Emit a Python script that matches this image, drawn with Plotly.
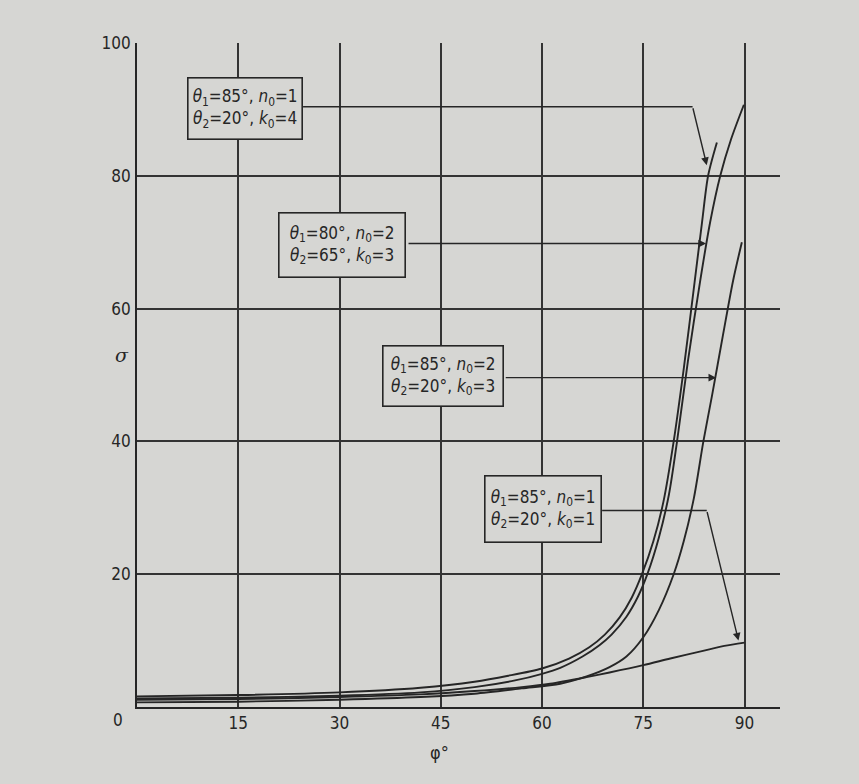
import plotly.graph_objects as go

# angle of incidence (degrees) and sigma for each parameter set
phi_a = [0, 15, 30, 42, 50, 55, 60, 64, 67, 69.3, 71.5, 73.3, 74.8, 76.5, 78, 79.5, 81, 82.6, 83.7, 84.6, 85.9]
sig_a = [1.6, 1.8, 2.2, 2.9, 3.8, 4.7, 5.8, 7.3, 9.0, 10.9, 13.5, 16.5, 20, 25, 31, 40, 51, 64, 73, 80, 85]

phi_b = [0, 15, 30, 42, 50, 56, 60, 62.7, 66, 68.5, 70.3, 72.5, 74.2, 75.6, 77.3, 78.8, 80, 81.6, 83.4, 84.9, 86.4, 88, 89.9]
sig_b = [1.3, 1.4, 1.7, 2.2, 3.0, 4.0, 5.0, 5.9, 7.6, 9.3, 10.9, 13.6, 16.6, 20, 25.5, 32, 40, 52, 64, 73, 80, 85.5, 90.7]

phi_c = [0, 15, 30, 42, 50, 57, 62.7, 66.6, 70, 72.5, 75, 77.3, 79.5, 81, 82.5, 83.9, 85.2, 86.8, 88.3, 89.6]
sig_c = [0.7, 0.8, 1.1, 1.5, 2.0, 2.8, 3.5, 4.6, 6.0, 7.6, 10.5, 14.6, 20, 25, 31.5, 40, 47, 56, 64.2, 70]

phi_d = [0, 15, 30, 42, 50, 57, 61.2, 66.6, 70, 75, 79, 84, 87, 90]
sig_d = [1.1, 1.2, 1.5, 1.9, 2.4, 3.0, 3.5, 4.5, 5.2, 6.3, 7.3, 8.5, 9.2, 9.7]

x_ticks = [0, 15, 30, 45, 60, 75, 90]
y_ticks = [0, 20, 40, 60, 80, 100]

labels = [
    ("85", "1", "20", "4"),
    ("80", "2", "65", "3"),
    ("85", "2", "20", "3"),
    ("85", "1", "20", "1"),
]

PAPER = "#d6d6d3"
INK = "#262626"
GRID = "#333333"
TICKFONT = "DejaVu Sans Condensed, Liberation Sans Narrow, DejaVu Sans, sans-serif"
LABELFONT = "DejaVu Sans Condensed, DejaVu Sans, sans-serif"

fig = go.Figure()
for px_, py_ in [(phi_a, sig_a), (phi_b, sig_b), (phi_c, sig_c), (phi_d, sig_d)]:
    fig.add_trace(go.Scatter(x=px_, y=py_, mode="lines",
                             line=dict(color=INK, width=1.9, shape="spline", smoothing=0.8),
                             hoverinfo="skip", showlegend=False))


def label_text(t1, n0, t2, k0):
    return (f"<i>θ</i><sub>1</sub>={t1}°, <i>n</i><sub>0</sub>={n0}<br>"
            f"<i>θ</i><sub>2</sub>={t2}°, <i>k</i><sub>0</sub>={k0}")


# label boxes: centre (phi, sigma), inner width and height in px
box_pos = [(16.05, 90.1), (30.4, 69.6), (45.35, 49.8), (60.1, 29.8)]
box_size = [(109, 56), (121, 59), (115, 55), (111, 61)]
for (t1, n0, t2, k0), (bx, by), (bw, bh) in zip(labels, box_pos, box_size):
    fig.add_annotation(x=bx, y=by, xref="x", yref="y", text=label_text(t1, n0, t2, k0),
                       showarrow=False, font=dict(family=LABELFONT, size=17, color=INK),
                       bgcolor=PAPER, bordercolor=INK, borderwidth=1.6, borderpad=2,
                       width=bw, height=bh, align="center")

# leader lines from the boxes to the curves
leaders = [
    [(24.6, 90.4), (82.3, 90.4), (84.4, 81.6)],
    [(40.0, 69.8), (84.3, 69.8)],
    [(54.4, 49.6), (85.8, 49.6)],
    [(68.9, 29.6), (84.4, 29.6), (89.1, 10.0)],
]
for pts in leaders:
    for (x0, y0), (x1, y1) in zip(pts[:-2], pts[1:-1]):
        fig.add_shape(type="line", x0=x0, y0=y0, x1=x1, y1=y1, xref="x", yref="y",
                      line=dict(color=INK, width=1.4))
    (x0, y0), (x1, y1) = pts[-2], pts[-1]
    fig.add_annotation(x=x1, y=y1, ax=x0, ay=y0, xref="x", yref="y", axref="x", ayref="y",
                       text="", showarrow=True, arrowhead=2, arrowsize=1.1, arrowwidth=1.4,
                       arrowcolor=INK, standoff=0)

# shared origin label and axis titles
fig.add_annotation(x=0, y=0, xref="x", yref="y", text="0", showarrow=False,
                   xshift=-19, yshift=-13, font=dict(family=TICKFONT, size=17, color=INK))
fig.add_annotation(x=-0.024, y=0.53, xref="paper", yref="paper", text="<i>σ</i>",
                   showarrow=False, xanchor="center", yanchor="middle",
                   font=dict(family="DejaVu Serif, serif", size=19, color=INK))
fig.add_annotation(x=0.471, y=-0.068, xref="paper", yref="paper", text="φ°",
                   showarrow=False, xanchor="center", yanchor="middle",
                   font=dict(family=LABELFONT, size=18, color=INK))

fig.update_xaxes(range=[0, 95.25], tickvals=x_ticks[1:], ticktext=[str(v) for v in x_ticks[1:]],
                 showgrid=True, gridcolor=GRID, gridwidth=1.5, zeroline=False,
                 showline=True, linecolor=INK, linewidth=1.9, ticks="", ticklabelstandoff=0,
                 tickfont=dict(family=TICKFONT, size=17, color=INK))
fig.update_yaxes(range=[0, 100], tickvals=y_ticks[1:], ticktext=[str(v) for v in y_ticks[1:]],
                 showgrid=True, gridcolor=GRID, gridwidth=1.5, zeroline=False,
                 showline=True, linecolor=INK, linewidth=1.9, ticks="", ticklabelstandoff=1,
                 tickfont=dict(family=TICKFONT, size=17, color=INK))

fig.update_layout(width=859, height=784, paper_bgcolor=PAPER, plot_bgcolor=PAPER,
                  margin=dict(l=136.5, r=79, t=43, b=77), showlegend=False)

fig.write_html("out.html")
